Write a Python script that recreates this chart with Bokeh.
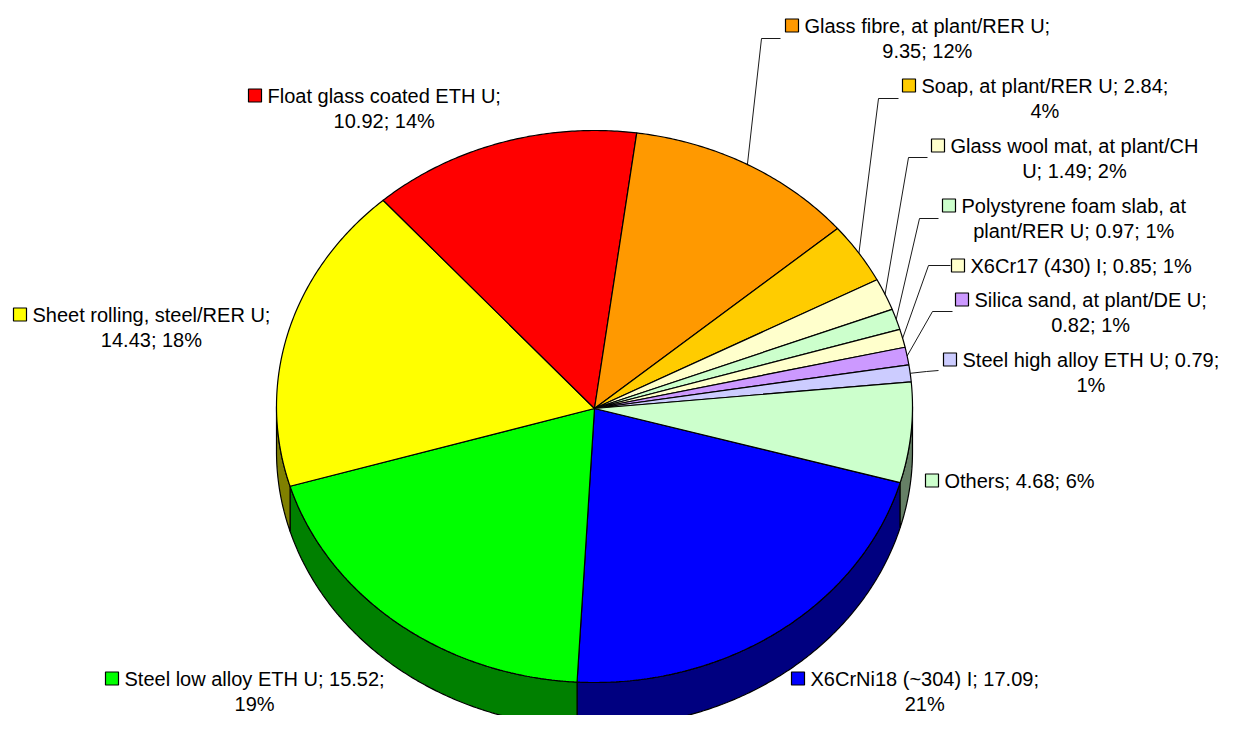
import numpy as np
from bokeh.plotting import figure
from bokeh.models import Range1d
from bokeh.core.properties import value
from bokeh.embed import file_html
from bokeh.resources import INLINE

# ---------------- data ----------------
names = ["X6CrNi18 (~304) I", "Steel low alloy ETH U", "Sheet rolling, steel/RER U",
         "Float glass coated ETH U", "Glass fibre, at plant/RER U", "Soap, at plant/RER U",
         "Glass wool mat, at plant/CH U", "Polystyrene foam slab, at plant/RER U",
         "X6Cr17 (430) I", "Silica sand, at plant/DE U", "Steel high alloy ETH U", "Others"]
values = [17.09, 15.52, 14.43, 10.92, 9.35, 2.84, 1.49, 0.97, 0.85, 0.82, 0.79, 4.68]

# ---------------- styles ----------------
top_colors = ["#0000FF", "#00FF00", "#FFFF00", "#FF0000", "#FF9900", "#FFCC00",
              "#FFFFCC", "#CCFFCC", "#FFFFCC", "#CC99FF", "#CCCCFF", "#CCFFCC"]
side_colors = ["#000080", "#008000", "#808000", "#800000", "#804C00", "#806600",
               "#808066", "#668066", "#808066", "#664C80", "#666680", "#668066"]

# ---------------- layout (pixel space) ----------------
CX, CY, RX, RY = 594.0, 406.0, 318.0, 276.0
APEX_X, APEX_Y = 594.0, 408.0
DEPTH = 45.0
START = -16.0
FONT = "Liberation Sans"
FS = 20.0
LINE_GAP = 25.5

key_x = [791, 105, 13, 248, 785, 902, 931, 942, 951, 955, 943, 925]
key_y = [678, 678, 314, 95, 25, 85, 145, 205, 265, 299, 359, 480]
line1_words = [4, 6, 4, 5, 5, 5, 5, 4, None, 5, 6, None]
elbows = [None, None, None, None, (761, 38), (878, 98), (908, 157), (919, 218),
          (928, 265), (932, 311), (926, 371), None]
ends = [None, None, None, None, (780, 38), (898, 98), (927, 157), (938, 218),
        (950, 265), (952, 311), (938, 370), None]

# Arial / Liberation Sans advance widths (per 1000 em)
W = {' ': 278, '(': 333, ')': 333, ',': 278, '-': 333, '.': 278, '/': 278, ';': 278,
     '%': 889, '~': 584}
for ch in "0123456789":
    W[ch] = 556
W.update(dict(A=667, B=667, C=722, D=722, E=667, F=611, G=778, H=722, I=278, J=500,
              K=667, L=556, M=833, N=722, O=778, P=667, Q=778, R=722, S=667, T=611,
              U=722, V=667, W=944, X=667, Y=667, Z=611))
W.update(dict(a=556, b=556, c=500, d=556, e=556, f=278, g=556, h=556, i=222, j=222,
              k=500, l=222, m=833, n=556, o=556, p=556, q=556, r=333, s=500, t=278,
              u=556, v=500, w=722, x=500, y=500, z=500))


def text_w(s):
    return sum(W.get(c, 556) for c in s) * FS / 1000.0


def ex(t):
    return CX + RX * np.cos(np.radians(t))


def ey(t):
    return CY - RY * np.sin(np.radians(t))


total = sum(values)
spans = [v / total * 360.0 for v in values]
starts = []
acc = START
for s in spans:
    starts.append(acc)
    acc -= s

p = figure(width=1221, height=715, x_range=Range1d(0, 1221), y_range=Range1d(715, 0),
           output_backend="svg", toolbar_location=None, min_border=0,
           x_axis_location=None, y_axis_location=None)
p.grid.visible = False
p.outline_line_color = None
p.background_fill_color = "white"

# side walls (front half only)
sx, sy, sc = [], [], []
for i, (a, s) in enumerate(zip(starts, spans)):
    b = a - s
    for lo, hi in [(-180.0, 0.0), (-540.0, -360.0)]:
        l2, h2 = max(b, lo), min(a, hi)
        if h2 - l2 > 1e-6:
            ts = np.linspace(l2, h2, max(4, int((h2 - l2) * 2)))
            xs = list(ex(ts)) + list(ex(ts[::-1]))
            ys = list(ey(ts)) + list(ey(ts[::-1]) + DEPTH)
            sx.append(xs)
            sy.append(ys)
            sc.append(side_colors[i])
p.patches(sx, sy, fill_color=sc, line_color="black", line_width=1.2)

# top faces
tx, ty = [], []
for a, s in zip(starts, spans):
    ts = np.linspace(a, a - s, max(4, int(s * 2)))
    tx.append([APEX_X] + list(ex(ts)))
    ty.append([APEX_Y] + list(ey(ts)))
p.patches(tx, ty, fill_color=top_colors, line_color="black", line_width=1.2)

# leader lines
lx, ly = [], []
for i, (a, s) in enumerate(zip(starts, spans)):
    if elbows[i] is None:
        continue
    m = a - s / 2.0
    lx.append([float(ex(m)), elbows[i][0], ends[i][0]])
    ly.append([float(ey(m)), elbows[i][1], ends[i][1]])
p.multi_line(lx, ly, line_color="black", line_width=0.9)

# labels
l1x, l1y, l1t, l2x, l2y, l2t = [], [], [], [], [], []
for i, (nm, v) in enumerate(zip(names, values)):
    pct = int(round(v / total * 100))
    full = f"{nm}; {v:.2f}; {pct}%"
    words = full.split(" ")
    n = line1_words[i]
    x0 = key_x[i] + 19
    if n is None:
        line1, line2 = full, None
    else:
        line1 = " ".join(words[:n])
        line2 = " ".join(words[n:])
    l1x.append(x0)
    l1y.append(key_y[i])
    l1t.append(line1)
    if line2:
        l2x.append(x0 + text_w(line1) / 2.0)
        l2y.append(key_y[i] + LINE_GAP)
        l2t.append(line2)

p.text(l1x, l1y, text=l1t, text_font=value(FONT), text_font_size=f"{FS}px",
       text_align="left", text_baseline="middle", text_color="black")
p.text(l2x, l2y, text=l2t, text_font=value(FONT), text_font_size=f"{FS}px",
       text_align="center", text_baseline="middle", text_color="black")

p.scatter([k + 6.5 for k in key_x], key_y, marker="square", size=13,
          fill_color=top_colors, line_color="black", line_width=1.2)

open("out.html", "w").write(file_html(p, INLINE))
